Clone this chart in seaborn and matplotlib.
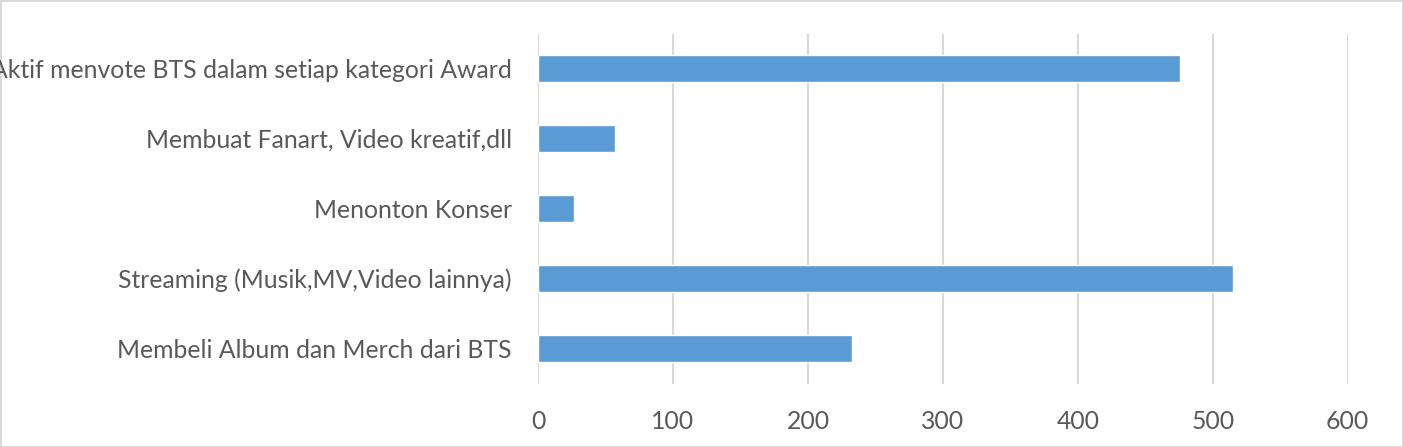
import pandas as pd
import matplotlib
matplotlib.use("Agg")
import matplotlib.pyplot as plt
import seaborn as sns

# categories listed top to bottom, as shown in the chart
kegiatan = [
    "Aktif menvote BTS dalam setiap kategori Award",
    "Membuat Fanart, Video kreatif,dll",
    "Menonton Konser",
    "Streaming (Musik,MV,Video lainnya)",
    "Membeli Album dan Merch dari BTS",
]
jumlah = [476, 57, 27, 515, 233]
xticks = [0, 100, 200, 300, 400, 500, 600]

df = pd.DataFrame({"Kegiatan": kegiatan, "Jumlah": jumlah})

sns.set_theme(style="white")
plt.rcParams["font.family"] = ["Lato", "DejaVu Sans"]

fig = plt.figure(figsize=(14.03, 4.47), dpi=100)
fig.patch.set_edgecolor("#d9d9d9")
fig.patch.set_linewidth(2)
ax = fig.add_axes([0.3835, 0.142, 0.9606 - 0.3835, 0.925 - 0.142])

sns.barplot(data=df, x="Jumlah", y="Kegiatan", orient="h", color="#5b9bd5",
            saturation=1, width=0.385, ax=ax, zorder=3)

ax.set_xlim(0, 600)
ax.set_xticks(xticks)
ax.grid(axis="x", color="#d9d9d9", linewidth=1.5, zorder=0)
ax.set_axisbelow(True)
for s in ax.spines.values():
    s.set_visible(False)
ax.set_xlabel("")
ax.set_ylabel("")
ax.tick_params(axis="y", length=0, pad=19, labelsize=17.8, labelcolor="#595959")
ax.tick_params(axis="x", length=0, pad=19, labelsize=17.8, labelcolor="#595959")

fig.savefig("out.png", dpi=100, edgecolor=fig.get_edgecolor())
